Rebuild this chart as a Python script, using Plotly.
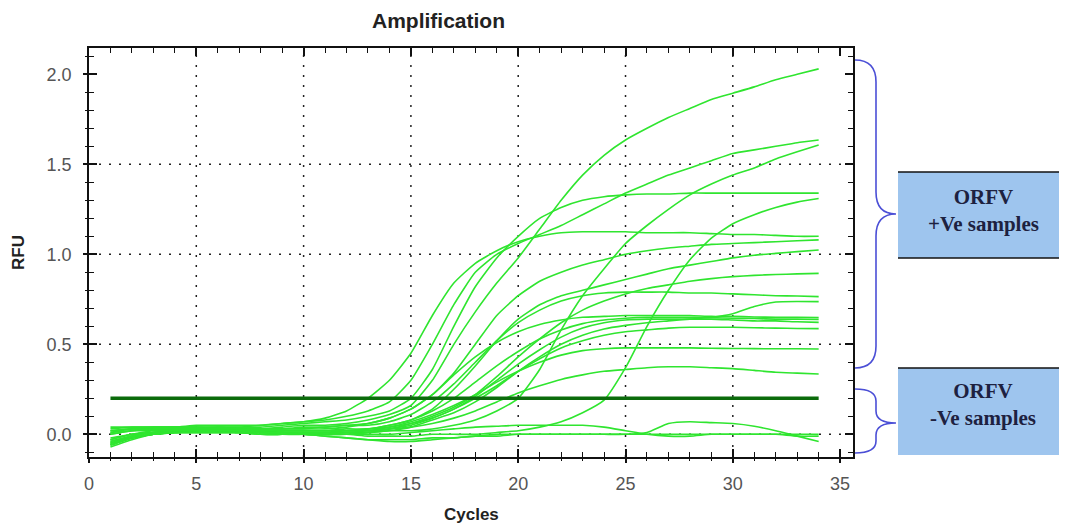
import plotly.graph_objects as go

# ---------------- data ----------------
cycles = list(range(1, 35))

threshold_cycles = [1, 34]
threshold_rfu = [0.2, 0.2]

# positive samples
rfu_a = [-0.05, -0.01, 0.01, 0.02, 0.03, 0.04, 0.04, 0.05, 0.06, 0.07,
         0.09, 0.13, 0.2, 0.3, 0.45, 0.66, 0.84, 0.95, 1.02, 1.07,
         1.1, 1.12, 1.125, 1.125, 1.125, 1.12, 1.12, 1.12, 1.115, 1.11,
         1.11, 1.105, 1.1, 1.1]
rfu_b = [0.02, 0.03, 0.04, 0.04, 0.05, 0.05, 0.05, 0.05, 0.06, 0.07,
         0.08, 0.1, 0.13, 0.18, 0.3, 0.5, 0.72, 0.9, 1.0, 1.06,
         1.11, 1.16, 1.22, 1.28, 1.34, 1.39, 1.44, 1.48, 1.52, 1.56,
         1.58, 1.6, 1.62, 1.635]
rfu_c = [0.03, 0.04, 0.04, 0.04, 0.04, 0.03, 0.03, 0.03, 0.04, 0.05,
         0.05, 0.06, 0.08, 0.11, 0.16, 0.3, 0.5, 0.68, 0.84, 0.98,
         1.14, 1.3, 1.44, 1.55, 1.635, 1.7, 1.76, 1.81, 1.86, 1.895,
         1.93, 1.97, 2.0, 2.03]
rfu_d = [-0.06, -0.02, 0.0, 0.01, 0.02, 0.02, 0.02, 0.01, 0.01, 0.01,
         0.01, 0.01, 0.01, 0.02, 0.02, 0.03, 0.05, 0.08, 0.13, 0.2,
         0.36, 0.58, 0.77, 0.92, 1.06, 1.16, 1.25, 1.33, 1.39, 1.44,
         1.48, 1.53, 1.57, 1.607]
rfu_e = [-0.04, -0.01, 0.01, 0.02, 0.02, 0.02, 0.02, 0.02, 0.01, 0.01,
         0.0, 0.0, -0.01, -0.01, -0.01, 0.0, 0.0, 0.0, 0.01, 0.02,
         0.04, 0.07, 0.12, 0.19, 0.37, 0.6, 0.8, 0.97, 1.09, 1.17,
         1.22, 1.26, 1.29, 1.31]
rfu_f = [0.01, 0.03, 0.03, 0.04, 0.04, 0.04, 0.04, 0.04, 0.05, 0.06,
         0.07, 0.08, 0.1, 0.13, 0.2, 0.36, 0.6, 0.82, 0.98, 1.1,
         1.2, 1.26, 1.3, 1.32, 1.33, 1.335, 1.335, 1.34, 1.34, 1.34,
         1.34, 1.34, 1.34, 1.34]
rfu_g = [-0.03, 0.0, 0.01, 0.02, 0.03, 0.03, 0.03, 0.03, 0.03, 0.03,
         0.04, 0.05, 0.06, 0.09, 0.14, 0.22, 0.34, 0.5, 0.66, 0.77,
         0.85, 0.9, 0.94, 0.97, 1.0, 1.02, 1.035, 1.045, 1.055, 1.06,
         1.065, 1.07, 1.075, 1.08]
rfu_h = [0.0, 0.02, 0.02, 0.03, 0.03, 0.02, 0.02, 0.02, 0.02, 0.02,
         0.02, 0.03, 0.03, 0.05, 0.08, 0.14, 0.25, 0.38, 0.52, 0.64,
         0.72, 0.77, 0.8, 0.83, 0.86, 0.89, 0.92, 0.94, 0.96, 0.98,
         0.995, 1.005, 1.015, 1.024]
rfu_i = [-0.07, -0.03, 0.0, 0.01, 0.02, 0.02, 0.01, 0.01, 0.01, 0.01,
         0.01, 0.02, 0.02, 0.03, 0.06, 0.1, 0.15, 0.22, 0.32, 0.43,
         0.53, 0.62, 0.69, 0.74, 0.78, 0.81, 0.83, 0.85, 0.865, 0.876,
         0.883, 0.888, 0.891, 0.894]
rfu_j = [0.04, 0.04, 0.04, 0.04, 0.04, 0.04, 0.03, 0.03, 0.03, 0.04,
         0.04, 0.05, 0.05, 0.07, 0.11, 0.18, 0.28, 0.4, 0.52, 0.62,
         0.69, 0.74, 0.77, 0.785, 0.79, 0.79, 0.79, 0.785, 0.785, 0.78,
         0.775, 0.77, 0.768, 0.765]
rfu_k = [-0.05, -0.02, 0.0, 0.01, 0.01, 0.01, 0.01, 0.01, 0.0, 0.0,
         0.0, 0.0, 0.01, 0.02, 0.04, 0.08, 0.12, 0.18, 0.26, 0.35,
         0.43, 0.5, 0.55, 0.585, 0.605, 0.62, 0.63, 0.64, 0.65, 0.67,
         0.71, 0.735, 0.738, 0.737]
rfu_l = [0.02, 0.03, 0.03, 0.03, 0.03, 0.03, 0.03, 0.03, 0.03, 0.03,
         0.03, 0.04, 0.06, 0.09, 0.14, 0.22, 0.33, 0.43, 0.51, 0.57,
         0.61, 0.635, 0.65, 0.655, 0.66, 0.66, 0.66, 0.66, 0.655, 0.655,
         0.652, 0.65, 0.65, 0.648]
rfu_m = [-0.02, 0.0, 0.01, 0.02, 0.02, 0.02, 0.02, 0.02, 0.02, 0.02,
         0.02, 0.02, 0.03, 0.05, 0.08, 0.13, 0.2, 0.29, 0.38, 0.46,
         0.53, 0.58, 0.615, 0.635, 0.645, 0.65, 0.65, 0.65, 0.648, 0.645,
         0.643, 0.64, 0.64, 0.638]
rfu_m2 = [-0.04, -0.01, 0.01, 0.01, 0.02, 0.02, 0.01, 0.01, 0.01, 0.0,
          0.0, 0.0, 0.01, 0.03, 0.05, 0.09, 0.14, 0.21, 0.3, 0.39,
          0.47, 0.54, 0.59, 0.62, 0.635, 0.64, 0.64, 0.64, 0.64, 0.635,
          0.63, 0.63, 0.625, 0.622]
rfu_n = [0.01, 0.02, 0.03, 0.03, 0.03, 0.03, 0.02, 0.02, 0.02, 0.02,
         0.02, 0.02, 0.03, 0.04, 0.06, 0.09, 0.14, 0.2, 0.27, 0.35,
         0.42, 0.48, 0.52, 0.55, 0.57, 0.58, 0.59, 0.595, 0.595, 0.595,
         0.592, 0.59, 0.588, 0.587]
rfu_o = [-0.06, -0.02, 0.0, 0.01, 0.01, 0.01, 0.01, 0.0, 0.0, 0.0,
         0.0, 0.01, 0.02, 0.04, 0.07, 0.11, 0.16, 0.22, 0.29, 0.35,
         0.4, 0.44, 0.465, 0.475, 0.48, 0.48, 0.48, 0.48, 0.478, 0.477,
         0.476, 0.475, 0.475, 0.474]
rfu_p = [0.0, 0.02, 0.03, 0.03, 0.03, 0.03, 0.03, 0.02, 0.02, 0.02,
         0.02, 0.02, 0.02, 0.03, 0.04, 0.06, 0.09, 0.13, 0.18, 0.23,
         0.27, 0.305, 0.33, 0.35, 0.36, 0.37, 0.375, 0.375, 0.37, 0.365,
         0.355, 0.345, 0.34, 0.335]

# negative samples
rfu_r1 = [-0.05, -0.02, 0.0, 0.01, 0.01, 0.01, 0.01, 0.0, 0.0, 0.0,
          -0.01, -0.02, -0.03, -0.03, -0.03, -0.02, -0.02, -0.01, -0.01, 0.0,
          0.0, 0.0, 0.0, 0.0, 0.0, 0.01, 0.06, 0.07, 0.065, 0.06,
          0.045, 0.02, -0.01, -0.04]
rfu_r2 = [-0.03, 0.0, 0.02, 0.02, 0.02, 0.02, 0.02, 0.01, 0.01, 0.0,
          0.0, 0.0, 0.0, 0.0, 0.01, 0.02, 0.03, 0.04, 0.045, 0.05,
          0.05, 0.05, 0.05, 0.04, 0.02, 0.0, -0.01, -0.01, 0.0, 0.0,
          0.0, 0.0, 0.0, 0.0]
rfu_r3 = [-0.06, -0.02, 0.0, 0.01, 0.01, 0.01, 0.01, 0.0, 0.0, 0.0,
          -0.01, -0.02, -0.03, -0.04, -0.04, -0.03, -0.02, -0.01, 0.0, 0.0,
          0.0, 0.0, 0.0, 0.0, 0.0, 0.0, 0.0, 0.0, 0.0, 0.0,
          0.0, 0.0, -0.01, -0.01]

curves = [rfu_a, rfu_b, rfu_c, rfu_d, rfu_e, rfu_f, rfu_g, rfu_h, rfu_i,
          rfu_j, rfu_k, rfu_l, rfu_m, rfu_m2, rfu_n, rfu_o, rfu_p,
          rfu_r1, rfu_r2, rfu_r3]
for c in curves:
    assert len(c) == len(cycles)

x_tick_vals = [0, 5, 10, 15, 20, 25, 30, 35]
y_tick_vals = [0.0, 0.5, 1.0, 1.5, 2.0]
grid_x = [5, 10, 15, 20, 25, 30]
grid_y = [0.0, 0.5, 1.0, 1.5]

x_range = [0, 35.6]
y_range = [-0.126, 2.146]

# ---------------- figure ----------------
fig = go.Figure()

for c in curves:
    fig.add_trace(go.Scatter(x=cycles, y=c, mode="lines",
                             line=dict(color="#2fe52f", width=1.6, shape="spline", smoothing=0.5),
                             hoverinfo="skip", showlegend=False))

fig.add_trace(go.Scatter(x=threshold_cycles, y=threshold_rfu, mode="lines",
                         line=dict(color="#0b6b0b", width=3.5),
                         hoverinfo="skip", showlegend=False))

# empty trace to register the overlay axes (outer halves of the crossing ticks)
fig.add_trace(go.Scatter(x=[None], y=[None], xaxis="x2", yaxis="y2",
                         mode="lines", hoverinfo="skip", showlegend=False))

shapes = []
for gx in grid_x:
    shapes.append(dict(type="line", xref="x", yref="paper", x0=gx, x1=gx, y0=0, y1=1,
                       line=dict(color="#222", width=1.5, dash="2px,8px"), layer="below"))
for gy in grid_y:
    shapes.append(dict(type="line", xref="paper", yref="y", x0=0, x1=1, y0=gy, y1=gy,
                       line=dict(color="#222", width=1.5, dash="2px,8px"), layer="below"))

# page geometry in pixels (the page body adds an 8px offset)
OFF = 8
W, H = 1067, 527
L, R, T, B = 89, 853, 48, 457
def px(x):
    return (x - L) / (R - L)
def py(y):
    return (B - y) / (B - T)

def brace(x0, x1, x2, yt, ym, yb, r):
    return (f"M {x0},{yt} Q {x1},{yt} {x1},{yt - r} L {x1},{ym + r} "
            f"Q {x1},{ym} {x2},{ym} Q {x1},{ym} {x1},{ym - r} "
            f"L {x1},{yb + r} Q {x1},{yb} {x0},{yb}")

brace_col = "#4b4fd6"
shapes.append(dict(type="path", xref="paper", yref="paper",
                   path=brace(px(855), px(876), px(896), py(60), py(214), py(368), 22 / (B - T)),
                   line=dict(color=brace_col, width=1.6)))
shapes.append(dict(type="path", xref="paper", yref="paper",
                   path=brace(px(855), px(876), px(896), py(389), py(423), py(453), 12 / (B - T)),
                   line=dict(color=brace_col, width=1.6)))

box_fill = "#9ec5ee"
for (top, bot, bottom_line) in [(172, 258, True), (368, 455, False)]:
    shapes.append(dict(type="rect", xref="paper", yref="paper",
                       x0=px(898), x1=px(1075), y0=py(bot), y1=py(top),
                       fillcolor=box_fill, line=dict(width=0)))
    shapes.append(dict(type="line", xref="paper", yref="paper",
                       x0=px(898), x1=px(1075), y0=py(top), y1=py(top),
                       line=dict(color="#111", width=1.5)))
    if bottom_line:
        shapes.append(dict(type="line", xref="paper", yref="paper",
                           x0=px(898), x1=px(1075), y0=py(bot), y1=py(bot),
                           line=dict(color="#111", width=1.5)))

serif = "Liberation Serif, Times New Roman, serif"
sans = "Liberation Sans, Arial, sans-serif"
annotations = [
    dict(text="<b>Amplification</b>", xref="paper", yref="paper", x=px(438), y=py(21),
         showarrow=False, font=dict(family=sans, size=21, color="#222"),
         xanchor="center", yanchor="middle"),
    dict(text="<b>Cycles</b>", xref="paper", yref="paper", x=px(471), y=py(514),
         showarrow=False, font=dict(family=sans, size=17, color="#222"),
         xanchor="center", yanchor="middle"),
    dict(text="<b>RFU</b>", xref="paper", yref="paper", x=px(19), y=py(253),
         showarrow=False, textangle=-90, font=dict(family=sans, size=17, color="#222"),
         xanchor="center", yanchor="middle"),
    dict(text="<b>ORFV</b><br><b>+Ve samples</b>", xref="paper", yref="paper",
         x=px(983), y=py(210), showarrow=False,
         font=dict(family=serif, size=21, color="#1d2140"),
         xanchor="center", yanchor="middle"),
    dict(text="<b>ORFV</b><br><b>-Ve samples</b>", xref="paper", yref="paper",
         x=px(983), y=py(404), showarrow=False,
         font=dict(family=serif, size=21, color="#1d2140"),
         xanchor="center", yanchor="middle"),
]

axis_common = dict(showline=True, linecolor="#111", linewidth=1.5, mirror="allticks",
                   ticks="inside", tickcolor="#111", tickwidth=1.5, ticklen=8,
                   showgrid=False, zeroline=False,
                   tickfont=dict(family=sans, size=18, color="#555"))

outer_common = dict(showline=False, ticks="outside", tickcolor="#111", tickwidth=1.5, ticklen=5,
                    showticklabels=False, showgrid=False, zeroline=False)

fig.update_layout(
    width=W - OFF, height=H - OFF,
    margin=dict(l=L - OFF, r=W - R, t=T - OFF, b=H - B, pad=0),
    paper_bgcolor="white", plot_bgcolor="white",
    showlegend=False,
    shapes=shapes, annotations=annotations,
    xaxis=dict(range=x_range, tickvals=x_tick_vals, ticktext=[str(v) for v in x_tick_vals],
               minor=dict(dtick=1, tick0=0, ticks="inside", ticklen=5, tickcolor="#111", tickwidth=1.2),
               ticklabelstandoff=10, **axis_common),
    yaxis=dict(range=y_range, tickvals=y_tick_vals, ticktext=[f"{v:.1f}" for v in y_tick_vals],
               minor=dict(dtick=0.1, tick0=0, ticks="inside", ticklen=5, tickcolor="#111", tickwidth=1.2),
               ticklabelstandoff=12, **axis_common),
    xaxis2=dict(overlaying="x", side="bottom", anchor="y2", range=x_range, tickvals=x_tick_vals,
                minor=dict(dtick=1, tick0=0, ticks="outside", ticklen=3, tickcolor="#111", tickwidth=1.2),
                **outer_common),
    yaxis2=dict(overlaying="y", side="left", anchor="x2", range=y_range, tickvals=y_tick_vals,
                minor=dict(dtick=0.1, tick0=0, ticks="outside", ticklen=3, tickcolor="#111", tickwidth=1.2),
                **outer_common),
)

fig.write_html("out.html")
